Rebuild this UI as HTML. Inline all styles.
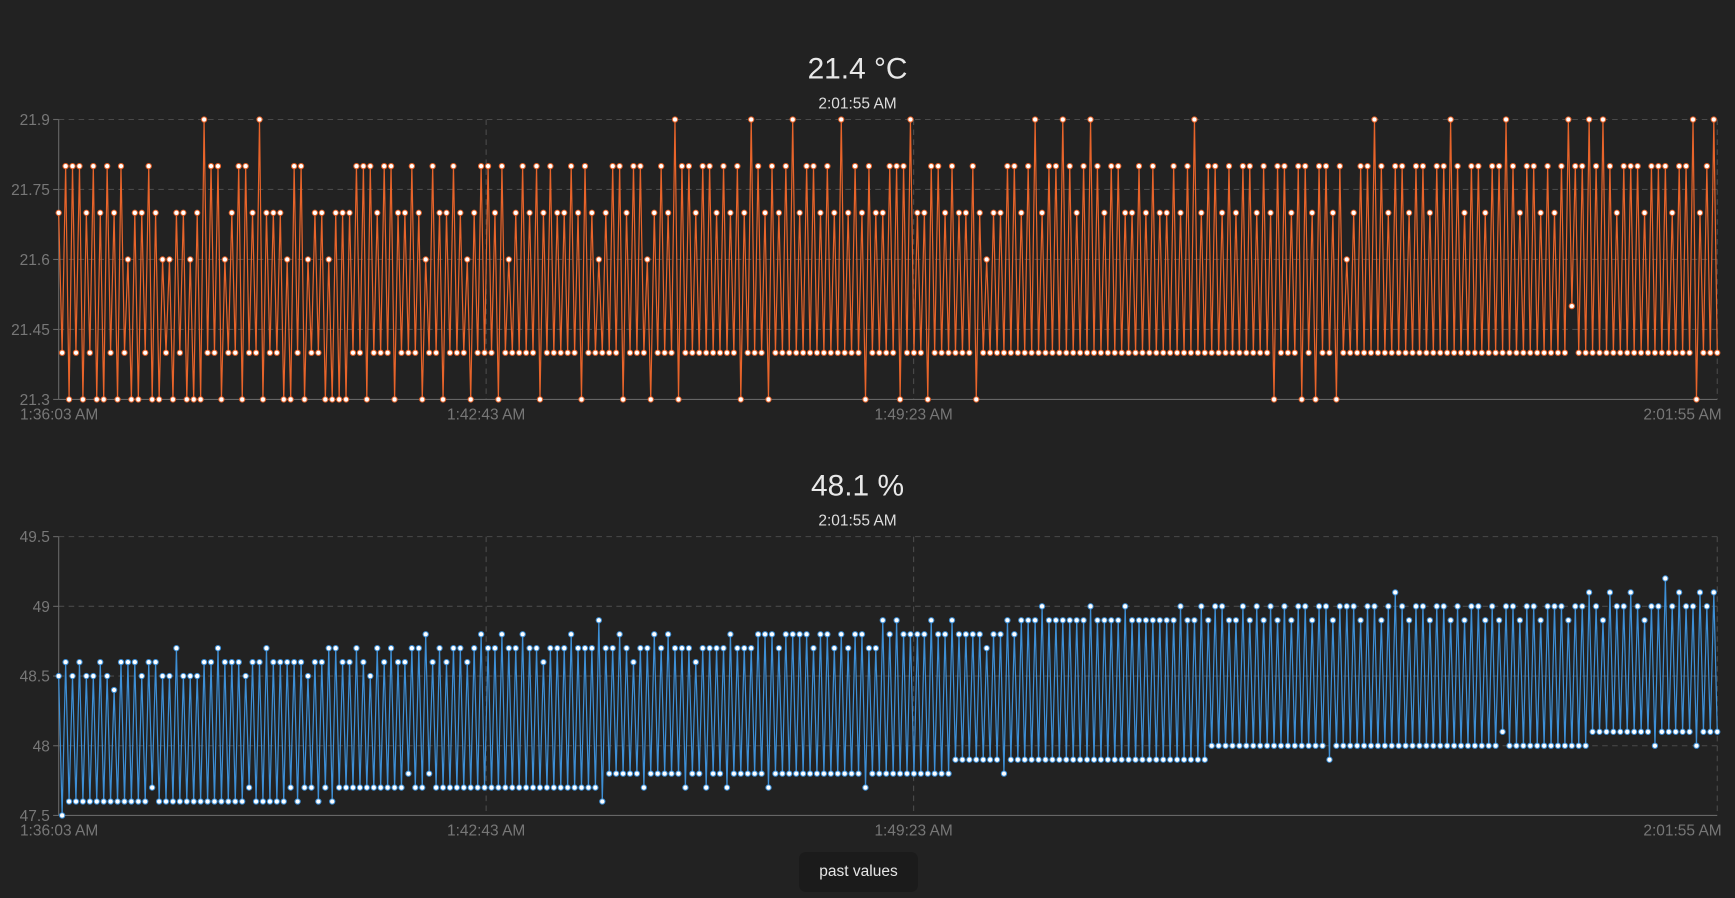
<!DOCTYPE html>
<html><head><meta charset="utf-8">
<style>
html,body{margin:0;padding:0;background:#222222;width:1735px;height:898px;overflow:hidden;font-family:"Liberation Sans",sans-serif;}
svg{position:absolute;left:0;top:0}
.btn{position:absolute;left:799px;top:852px;width:119px;height:40px;background:#1b1b1b;border-radius:7px;color:#e6e6e6;font-size:15.5px;line-height:40px;text-align:center;}
</style></head>
<body>
<svg id="chart" width="1735" height="898" viewBox="0 0 1568 811.6"></svg>
<div class="btn">past values</div>
<script>
const xTickLabels = ["1:36:03 AM","1:42:43 AM","1:49:23 AM","2:01:55 AM"];
const xTickSeconds = [0,400,800,1552];
const tempTicks = [21.3,21.45,21.6,21.75,21.9];
const humTicks = [47.5,48,48.5,49,49.5];
const tempHigh = [
21.7,21.8,21.8,21.8,21.7,21.8,21.7,21.8,21.7,21.8,21.6,21.7,21.7,21.8,21.7,21.6,21.6,21.7,21.7,21.6,
21.7,21.9,21.8,21.8,21.6,21.7,21.8,21.8,21.7,21.9,21.7,21.7,21.7,21.6,21.8,21.8,21.6,21.7,21.7,21.6,
21.7,21.7,21.7,21.8,21.8,21.8,21.7,21.8,21.8,21.7,21.7,21.8,21.7,21.6,21.8,21.7,21.7,21.8,21.7,21.6,
21.7,21.8,21.8,21.7,21.8,21.6,21.7,21.8,21.7,21.8,21.7,21.8,21.7,21.7,21.8,21.7,21.8,21.7,21.6,21.7,
21.8,21.8,21.7,21.8,21.8,21.6,21.7,21.8,21.7,21.9,21.8,21.8,21.7,21.8,21.8,21.7,21.8,21.7,21.8,21.7,
21.9,21.8,21.7,21.8,21.7,21.8,21.9,21.7,21.8,21.8,21.7,21.8,21.7,21.9,21.7,21.8,21.7,21.8,21.7,21.7,
21.8,21.8,21.8,21.9,21.7,21.7,21.8,21.8,21.7,21.8,21.7,21.7,21.8,21.7,21.6,21.7,21.7,21.8,21.8,21.7,
21.8,21.9,21.7,21.8,21.8,21.9,21.8,21.7,21.8,21.9,21.8,21.7,21.8,21.8,21.7,21.7,21.8,21.7,21.8,21.7,
21.7,21.8,21.7,21.8,21.9,21.7,21.8,21.8,21.7,21.8,21.7,21.8,21.8,21.7,21.8,21.7,21.8,21.8,21.7,21.8,
21.8,21.7,21.8,21.8,21.7,21.8,21.6,21.7,21.8,21.8,21.9,21.8,21.7,21.8,21.8,21.7,21.8,21.8,21.7,21.8,
21.8,21.9,21.8,21.7,21.8,21.8,21.7,21.8,21.8,21.9,21.8,21.7,21.8,21.8,21.7,21.8,21.7,21.8,21.9,21.8,
21.8,21.9,21.8,21.9,21.8,21.7,21.8,21.8,21.8,21.7,21.8,21.8,21.8,21.7,21.8,21.8,21.9,21.7,21.8,21.9];
const tempLow = [
21.4,21.3,21.4,21.3,21.4,21.3,21.3,21.4,21.3,21.4,21.3,21.3,21.4,21.3,21.3,21.4,21.3,21.4,21.3,21.3,
21.3,21.4,21.4,21.3,21.4,21.4,21.3,21.4,21.4,21.3,21.4,21.4,21.3,21.3,21.4,21.3,21.4,21.4,21.3,21.3,
21.3,21.3,21.4,21.4,21.3,21.4,21.4,21.4,21.3,21.4,21.4,21.4,21.3,21.4,21.4,21.3,21.4,21.4,21.4,21.3,
21.4,21.4,21.4,21.3,21.4,21.4,21.4,21.4,21.4,21.3,21.4,21.4,21.4,21.4,21.4,21.3,21.4,21.4,21.4,21.4,
21.4,21.3,21.4,21.4,21.4,21.3,21.4,21.4,21.4,21.3,21.4,21.4,21.4,21.4,21.4,21.4,21.4,21.4,21.3,21.4,
21.4,21.4,21.3,21.4,21.4,21.4,21.4,21.4,21.4,21.4,21.4,21.4,21.4,21.4,21.4,21.4,21.3,21.4,21.4,21.4,
21.4,21.3,21.4,21.4,21.4,21.3,21.4,21.4,21.4,21.4,21.4,21.4,21.3,21.4,21.4,21.4,21.4,21.4,21.4,21.4,
21.4,21.4,21.4,21.4,21.4,21.4,21.4,21.4,21.4,21.4,21.4,21.4,21.4,21.4,21.4,21.4,21.4,21.4,21.4,21.4,
21.4,21.4,21.4,21.4,21.4,21.4,21.4,21.4,21.4,21.4,21.4,21.4,21.4,21.4,21.4,21.3,21.4,21.4,21.4,21.3,
21.4,21.3,21.4,21.4,21.3,21.4,21.4,21.4,21.4,21.4,21.4,21.4,21.4,21.4,21.4,21.4,21.4,21.4,21.4,21.4,
21.4,21.4,21.4,21.4,21.4,21.4,21.4,21.4,21.4,21.4,21.4,21.4,21.4,21.4,21.4,21.4,21.4,21.4,21.5,21.4,
21.4,21.4,21.4,21.4,21.4,21.4,21.4,21.4,21.4,21.4,21.4,21.4,21.4,21.4,21.4,21.4,21.3,21.4,21.4,21.4];
const humHigh = [
48.5,48.6,48.5,48.6,48.5,48.5,48.6,48.5,48.4,48.6,48.6,48.6,48.5,48.6,48.6,48.5,48.5,48.7,48.5,48.5,
48.5,48.6,48.6,48.7,48.6,48.6,48.6,48.5,48.6,48.6,48.7,48.6,48.6,48.6,48.6,48.6,48.5,48.6,48.6,48.7,
48.7,48.6,48.6,48.7,48.6,48.5,48.7,48.6,48.7,48.6,48.6,48.7,48.7,48.8,48.6,48.7,48.6,48.7,48.7,48.6,
48.7,48.8,48.7,48.7,48.8,48.7,48.7,48.8,48.7,48.7,48.6,48.7,48.7,48.7,48.8,48.7,48.7,48.7,48.9,48.7,
48.7,48.8,48.7,48.6,48.7,48.7,48.8,48.7,48.8,48.7,48.7,48.7,48.6,48.7,48.7,48.7,48.7,48.8,48.7,48.7,
48.7,48.8,48.8,48.8,48.7,48.8,48.8,48.8,48.8,48.7,48.8,48.8,48.7,48.8,48.7,48.8,48.8,48.7,48.7,48.9,
48.8,48.9,48.8,48.8,48.8,48.8,48.9,48.8,48.8,48.9,48.8,48.8,48.8,48.8,48.7,48.8,48.8,48.9,48.8,48.9,
48.9,48.9,49.0,48.9,48.9,48.9,48.9,48.9,48.9,49.0,48.9,48.9,48.9,48.9,49.0,48.9,48.9,48.9,48.9,48.9,
48.9,48.9,49.0,48.9,48.9,49.0,48.9,49.0,49.0,48.9,48.9,49.0,48.9,49.0,48.9,49.0,48.9,49.0,48.9,49.0,
49.0,48.9,49.0,49.0,48.9,49.0,49.0,49.0,48.9,49.0,49.0,48.9,49.0,49.1,49.0,48.9,49.0,49.0,48.9,49.0,
49.0,48.9,49.0,48.9,49.0,49.0,48.9,49.0,48.9,49.0,49.0,48.9,49.0,49.0,48.9,49.0,49.0,49.0,48.9,49.0,
49.0,49.1,49.0,48.9,49.1,49.0,49.0,49.1,49.0,48.9,49.0,49.0,49.2,49.0,49.1,49.0,49.0,49.1,49.0,49.1];
const humLow = [
47.5,47.6,47.6,47.6,47.6,47.6,47.6,47.6,47.6,47.6,47.6,47.6,47.6,47.7,47.6,47.6,47.6,47.6,47.6,47.6,
47.6,47.6,47.6,47.6,47.6,47.6,47.6,47.7,47.6,47.6,47.6,47.6,47.6,47.7,47.6,47.7,47.7,47.6,47.7,47.6,
47.7,47.7,47.7,47.7,47.7,47.7,47.7,47.7,47.7,47.7,47.8,47.7,47.7,47.8,47.7,47.7,47.7,47.7,47.7,47.7,
47.7,47.7,47.7,47.7,47.7,47.7,47.7,47.7,47.7,47.7,47.7,47.7,47.7,47.7,47.7,47.7,47.7,47.7,47.6,47.8,
47.8,47.8,47.8,47.8,47.7,47.8,47.8,47.8,47.8,47.8,47.7,47.8,47.8,47.7,47.8,47.8,47.7,47.8,47.8,47.8,
47.8,47.8,47.7,47.8,47.8,47.8,47.8,47.8,47.8,47.8,47.8,47.8,47.8,47.8,47.8,47.8,47.7,47.8,47.8,47.8,
47.8,47.8,47.8,47.8,47.8,47.8,47.8,47.8,47.8,47.9,47.9,47.9,47.9,47.9,47.9,47.9,47.8,47.9,47.9,47.9,
47.9,47.9,47.9,47.9,47.9,47.9,47.9,47.9,47.9,47.9,47.9,47.9,47.9,47.9,47.9,47.9,47.9,47.9,47.9,47.9,
47.9,47.9,47.9,47.9,47.9,47.9,48.0,48.0,48.0,48.0,48.0,48.0,48.0,48.0,48.0,48.0,48.0,48.0,48.0,48.0,
48.0,48.0,48.0,47.9,48.0,48.0,48.0,48.0,48.0,48.0,48.0,48.0,48.0,48.0,48.0,48.0,48.0,48.0,48.0,48.0,
48.0,48.0,48.0,48.0,48.0,48.0,48.0,48.0,48.1,48.0,48.0,48.0,48.0,48.0,48.0,48.0,48.0,48.0,48.0,48.0,
48.0,48.1,48.1,48.1,48.1,48.1,48.1,48.1,48.1,48.1,48.0,48.1,48.1,48.1,48.1,48.1,48.0,48.1,48.1,48.1];

const NS="http://www.w3.org/2000/svg";
const svg=document.getElementById('chart');
const X0=53,X1=1552,TMAX=1552;
function xs(t){return X0+(t/TMAX)*(X1-X0);}
function el(tag,attrs,parent){const e=document.createElementNS(NS,tag);for(const k in attrs)e.setAttribute(k,attrs[k]);(parent||svg).appendChild(e);return e;}

function drawChart(cfg){
  const g=el('g',{});
  
  
  const ymin=cfg.ticks[0],ymax=cfg.ticks[cfg.ticks.length-1];
  const ys=v=>cfg.yBottom-(v-ymin)/(ymax-ymin)*(cfg.yBottom-cfg.yTop);
  const title=el('text',{x:775,y:cfg.yTop-37,'text-anchor':'middle','font-size':27,fill:'#e8e8e8'},g);
  title.textContent=cfg.title;
  
  
  const sub=el('text',{x:775,y:cfg.yTop-10,'text-anchor':'middle','font-size':14,fill:'#dddddd'},g);
  sub.textContent='2:01:55 AM';
  
  
  cfg.ticks.forEach((v,i)=>{
    const y=ys(v);
    if(i>0){const gl=el('line',{x1:X0,x2:X1,y1:y,y2:y,stroke:'#4a4a4a','stroke-dasharray':'5,4'},g);
      
      }
    el('line',{x1:X0-5,x2:X0,y1:y,y2:y,stroke:'#666'},g);
    const t=el('text',{x:X0-8,y:y+5,'text-anchor':'end','font-size':14,fill:'#777'},g);
    t.textContent=String(v);
    
    
  });
  xTickSeconds.forEach((s,i)=>{
    const x=xs(s);
    if(i>0){const gl=el('line',{x1:x,x2:x,y1:cfg.yTop,y2:cfg.yBottom,stroke:'#4a4a4a','stroke-dasharray':'5,4'},g);
      
      }
    const t=el('text',{x:x,y:cfg.yBottom+18,'text-anchor':i==0?'start':(i==xTickSeconds.length-1?'end':'middle'),'font-size':14,fill:'#777'},g);
    if(i==0)t.setAttribute('x',x-35);
    if(i==xTickSeconds.length-1)t.setAttribute('x',x+4);
    t.textContent=xTickLabels[i];
    
    
  });
  el('line',{x1:X0,x2:X0,y1:cfg.yTop,y2:cfg.yBottom,stroke:'#666'},g);
  el('line',{x1:X0,x2:X1,y1:cfg.yBottom,y2:cfg.yBottom,stroke:'#666'},g);
  const vals=[];
  for(let i=0;i<cfg.high.length;i++){vals.push(cfg.high[i]);vals.push(cfg.low[i]);}
  const n=vals.length;
  const pts=vals.map((v,i)=>[xs(i*TMAX/(n-1)),ys(v)]);
  const line=el('polyline',{points:pts.map(p=>p[0].toFixed(1)+','+p[1].toFixed(1)).join(' '),fill:'none',stroke:cfg.color,'stroke-width':1.1},g);
  
  
  pts.forEach(p=>{
    const c=el('circle',{cx:p[0],cy:p[1],r:2.4,fill:'#ffffff',stroke:cfg.color,'stroke-width':0.9},g);
    
    
  });
}
drawChart({name:'temperature-chart',title:'21.4 °C',ticks:tempTicks,high:tempHigh,low:tempLow,yTop:108,yBottom:361,color:'#e8642a'});
drawChart({name:'humidity-chart',title:'48.1 %',ticks:humTicks,high:humHigh,low:humLow,yTop:485,yBottom:737,color:'#3d8fd6'});
</script>
</body></html>
